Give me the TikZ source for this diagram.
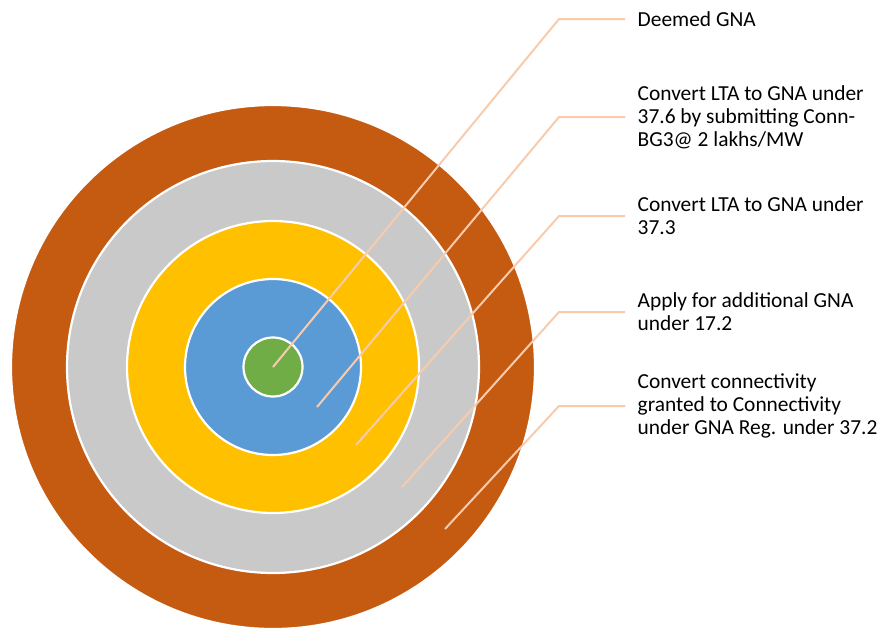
\documentclass[tikz,border=0pt]{standalone}
\usepackage{fontspec}
\setmainfont{Carlito}
\definecolor{cOrange}{HTML}{C55A11}
\definecolor{cGrey}{HTML}{C9C9C9}
\definecolor{cYellow}{HTML}{FFC000}
\definecolor{cBlue}{HTML}{5B9BD5}
\definecolor{cGreen}{HTML}{70AD47}
\definecolor{cLeader}{HTML}{F8CBAD}
\begin{document}
\begin{tikzpicture}[x=1pt,y=-1pt,
  ring/.style={circle, draw=white, line width=2.2pt, inner sep=0pt},
  leader/.style={draw=cLeader, line width=2pt},
  label/.style={anchor=west, align=left, inner xsep=12.5pt, inner ysep=0pt,
    font=\fontsize{21.4pt}{23pt}\selectfont, text=black}]
\useasboundingbox (0,0) rectangle (879,630);
\coordinate (c) at (273,367);
\node[ring, fill=cOrange, minimum size=524pt] (r5) at (c) {};
\node[ring, fill=cGrey, minimum size=412pt] (r4) at (c) {};
\node[ring, fill=cYellow, minimum size=292pt] (r3) at (c) {};
\node[ring, fill=cBlue, minimum size=176pt] (r2) at (c) {};
\node[ring, fill=cGreen, minimum size=59pt] (r1) at (c) {};
% leader start points
\coordinate (p1) at (273,367);
\coordinate (p2) at (317,407);
\coordinate (p3) at (356,445);
\coordinate (p4) at (402,487);
\coordinate (p5) at (445,529);
% elbows
\coordinate (e1) at (559,19);
\coordinate (e2) at (559,117);
\coordinate (e3) at (559,216);
\coordinate (e4) at (559,312);
\coordinate (e5) at (559,406);
% labels
\node[label] (t1) at (625,19) {Deemed GNA};
\node[label] (t2) at (625,117) {Convert LTA to GNA under\\37.6 by submitting Conn-\\BG3@ 2 lakhs/MW};
\node[label] (t3) at (625,216) {Convert LTA to GNA under\\37.3};
\node[label] (t4) at (625,312) {Apply for additional GNA\\under 17.2};
\node[label] (t5) at (625,406) {Convert connectivity\\granted to Connectivity\\under GNA Reg. under 37.2};
\draw[leader] (p1) -- (e1) -- (t1.west);
\draw[leader] (p2) -- (e2) -- (t2.west);
\draw[leader] (p3) -- (e3) -- (t3.west);
\draw[leader] (p4) -- (e4) -- (t4.west);
\draw[leader] (p5) -- (e5) -- (t5.west);
\end{tikzpicture}
\end{document}
